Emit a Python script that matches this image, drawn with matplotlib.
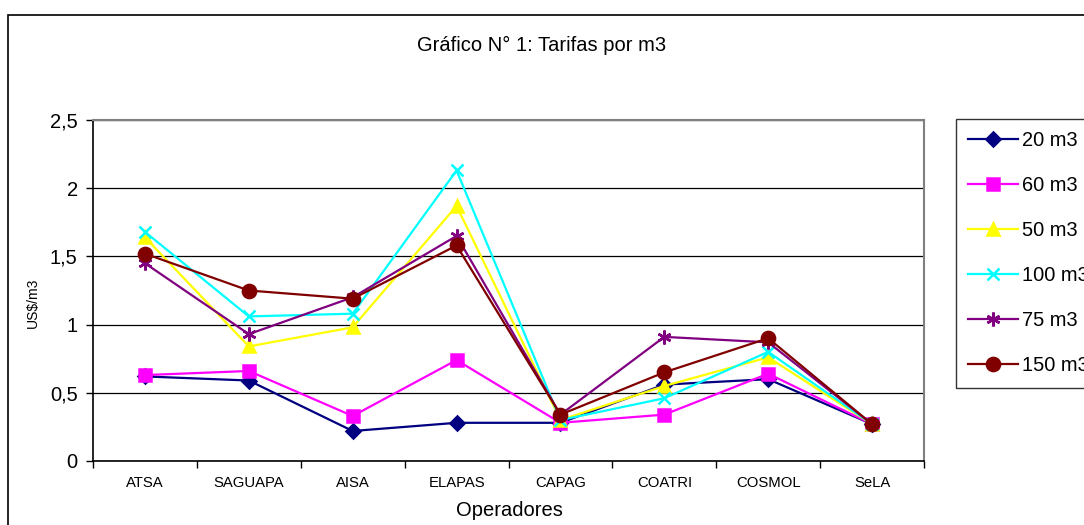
import matplotlib
matplotlib.use('Agg')
import matplotlib.pyplot as plt
import matplotlib.patches as patches
import numpy as np

plt.rcParams['font.family'] = ['Liberation Sans', 'DejaVu Sans']

operadores = ['ATSA', 'SAGUAPA', 'AISA', 'ELAPAS', 'CAPAG', 'COATRI', 'COSMOL', 'SeLA']

t20 = [0.62, 0.59, 0.22, 0.28, 0.28, 0.56, 0.60, 0.27]
t60 = [0.63, 0.66, 0.33, 0.74, 0.28, 0.34, 0.64, 0.27]
t50 = [1.64, 0.84, 0.98, 1.87, 0.30, 0.55, 0.76, 0.27]
t100 = [1.68, 1.06, 1.08, 2.13, 0.30, 0.46, 0.80, 0.27]
t75 = [1.45, 0.93, 1.20, 1.65, 0.34, 0.91, 0.87, 0.27]
t150 = [1.52, 1.25, 1.19, 1.58, 0.34, 0.65, 0.90, 0.27]

series = [
    ('20 m3', t20, '#000080', 'D', 7),
    ('60 m3', t60, '#FF00FF', 's', 8.5),
    ('50 m3', t50, '#FFFF00', '^', 9),
    ('100 m3', t100, '#00FFFF', 'x', 9),
    ('75 m3', t75, '#800080', (6, 2, 0), 10),
    ('150 m3', t150, '#800000', 'o', 9.5),
]

W, H = 1084, 525
fig = plt.figure(figsize=(W / 100, H / 100), dpi=100)

# marco exterior del grafico
fig.patches.append(patches.Rectangle((8 / W, -0.1), 1.2, 1 - 15 / H + 0.1,
                                     transform=fig.transFigure, fill=False,
                                     edgecolor='black', linewidth=1.2))

ax = fig.add_axes([93 / W, 1 - 461 / H, 831 / W, 341 / H])
x = np.arange(len(operadores))
handles = []
for name, vals, col, mk, ms in series:
    h, = ax.plot(x, vals, color=col, marker=mk, markersize=ms, linewidth=1.6,
                 markeredgecolor=col, markerfacecolor=col, markeredgewidth=1.8,
                 label=name, clip_on=False)
    handles.append(h)

ax.set_xlim(-0.5, len(operadores) - 0.5)
ax.set_ylim(0, 2.5)
ax.set_yticks([0, 0.5, 1, 1.5, 2, 2.5])
ax.set_yticklabels(['0', '0,5', '1', '1,5', '2', '2,5'], fontsize=14.5)
ax.set_xticks(x)
ax.set_xticklabels(operadores, fontsize=10.7)
ax.set_xticks(np.arange(-0.5, len(operadores), 1), minor=True)
ax.tick_params(axis='x', which='major', length=0, pad=11)
ax.tick_params(axis='x', which='minor', length=5, width=1, direction='out')
ax.tick_params(axis='y', length=5, width=1, direction='out', pad=6)
ax.yaxis.grid(True, color='black', linewidth=0.9)
ax.set_axisbelow(True)
for s in ['top', 'right']:
    ax.spines[s].set_color('#808080')
    ax.spines[s].set_linewidth(1.5)
for s in ['left', 'bottom']:
    ax.spines[s].set_color('black')
    ax.spines[s].set_linewidth(1.2)

fig.text(542 / W, 1 - 45 / H, 'Gráfico N° 1: Tarifas por m3', ha='center', va='center', fontsize=14.5)
fig.text(33 / W, 1 - 303 / H, 'US$/m3', ha='center', va='center', rotation=90, fontsize=10)
fig.text(509 / W, 1 - 510 / H, 'Operadores', ha='center', va='center', fontsize=14.5)

# la leyenda queda cortada en el borde derecho, como en el original
leg = fig.legend(handles=handles, loc='upper left', bbox_to_anchor=(956 / W, 1 - 119 / H),
                 fontsize=14.4, frameon=True, fancybox=False, handlelength=2.5,
                 handletextpad=0.2, labelspacing=1.3, borderpad=0.62, borderaxespad=0)
leg.get_frame().set_edgecolor('black')
leg.get_frame().set_linewidth(1.0)

fig.savefig('out.png', dpi=100)
